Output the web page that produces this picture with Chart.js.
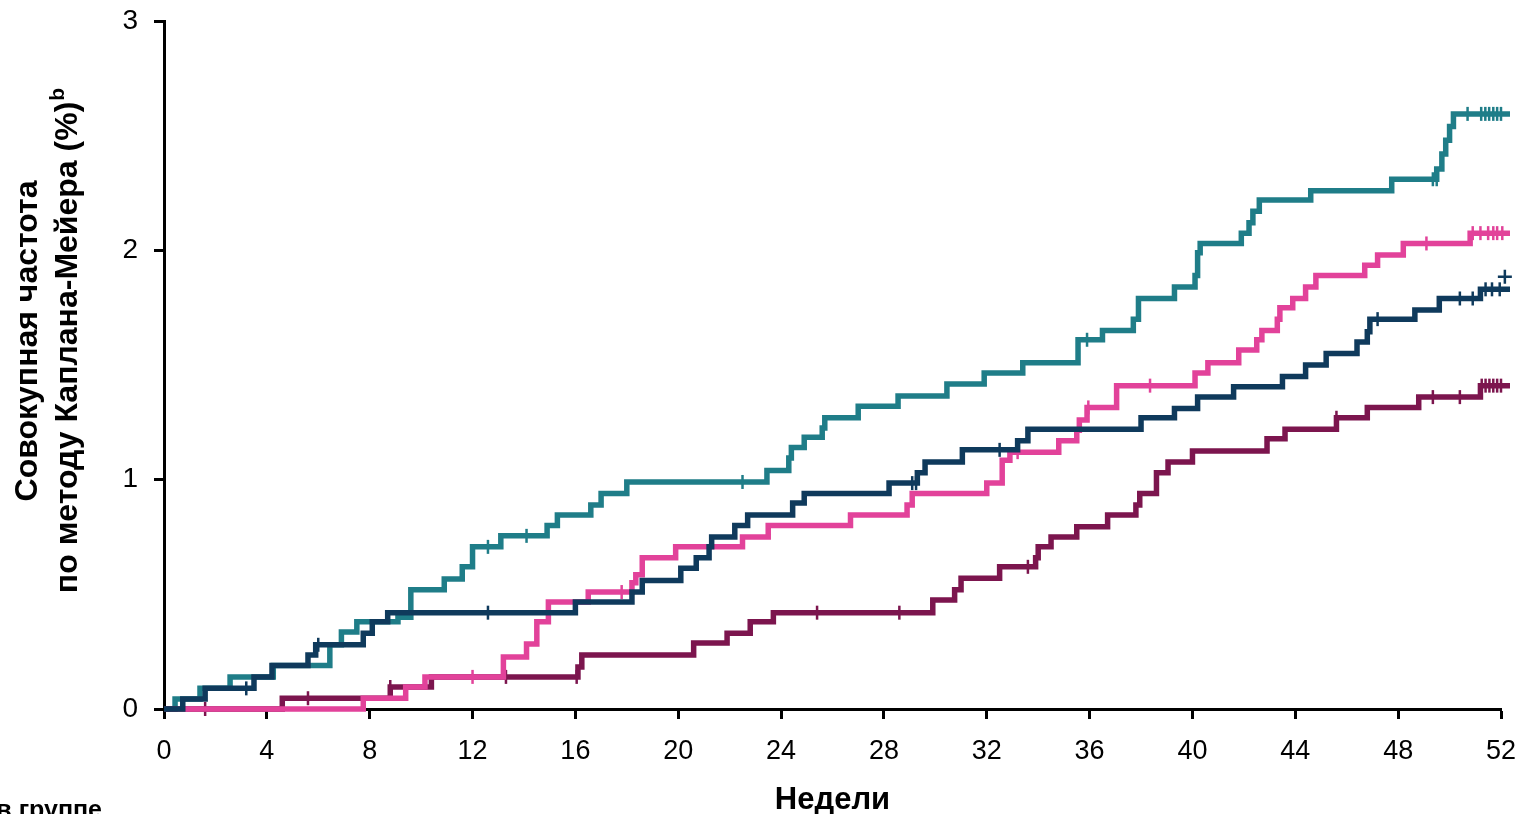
<!DOCTYPE html>
<html><head><meta charset="utf-8">
<script src="https://cdn.jsdelivr.net/npm/chart.js@4.4.1/dist/chart.umd.min.js"></script>
<style>html,body{margin:0;padding:0;background:#fff;overflow:hidden}#wrap{position:relative;width:1519px;height:814px}</style>
</head><body><div id="wrap"><canvas id="c"></canvas></div>
<script>
// ---- tick labels / titles ----
const xTickValues = [0,4,8,12,16,20,24,28,32,36,40,44,48,52];
const yTickValues = [0,1,2,3];
const xTitle = 'Недели';
const yTitleLine1 = 'Совокупная частота';
const yTitleLine2 = 'по методу Каплана-Мейера (%)';
const yTitleSup = 'b';
const footText = 'в группе';

// ---- teal series ----
const tealTimes = [0,0.43,1.4,2.57,4.25,6.45,6.9,7.5,9.1,9.6,10.9,11.6,12.0,13.1,14.9,15.3,16.6,17.0,18.0,23.45,24.3,24.4,24.9,25.6,25.7,27.0,28.55,30.45,31.9,33.4,35.55,36.5,37.7,37.9,39.3,40.1,40.2,40.3,41.9,42.2,42.35,42.6,44.6,47.75,49.5,49.7,49.85,50.0,50.15,52.35];
const tealValues = [0,0.044,0.09,0.14,0.19,0.28,0.336,0.38,0.40,0.52,0.567,0.62,0.707,0.755,0.80,0.846,0.89,0.94,0.99,1.04,1.095,1.14,1.185,1.225,1.27,1.32,1.365,1.417,1.465,1.51,1.61,1.65,1.70,1.79,1.84,1.89,1.99,2.03,2.075,2.12,2.17,2.22,2.26,2.31,2.355,2.42,2.48,2.54,2.595,2.595];
const tealCensorTimes = [12.6,14.1,22.5,35.9,49.35,49.5,50.7,51.23,51.39,51.54,51.7,51.85,52.0];
const tealCensorValues = [0.707,0.755,0.99,1.61,2.31,2.31,2.595,2.595,2.595,2.595,2.595,2.595,2.595];

// ---- navy series ----
const navyTimes = [0,0.73,1.6,3.5,4.2,5.6,5.9,7.75,8.1,8.7,16.0,18.2,18.6,20.1,20.7,21.2,21.3,22.2,22.7,24.45,24.9,28.2,29.3,29.6,31.05,33.2,33.6,38.0,39.3,40.2,41.6,43.5,44.4,45.2,46.4,46.8,46.9,48.65,49.6,51.2,52.35];
const navyValues = [0,0.044,0.09,0.14,0.19,0.235,0.28,0.33,0.38,0.42,0.467,0.51,0.56,0.614,0.66,0.707,0.75,0.80,0.846,0.898,0.94,0.985,1.03,1.077,1.13,1.17,1.22,1.27,1.31,1.36,1.405,1.45,1.50,1.55,1.60,1.645,1.70,1.74,1.79,1.83,1.83];
const navyCensorTimes = [3.2,6.0,12.6,29.1,29.25,32.5,47.2,50.4,50.9,51.4,51.65,51.95,52.15];
const navyCensorValues = [0.09,0.28,0.42,0.985,0.985,1.13,1.70,1.79,1.79,1.83,1.83,1.83,1.885];

// ---- pink series ----
const pinkTimes = [0.8,7.75,9.4,10.15,13.2,14.1,14.5,14.95,16.5,18.2,18.35,18.6,19.9,22.5,23.5,26.7,28.9,29.1,32.0,32.6,32.9,34.8,35.5,35.6,35.9,37.05,40.1,40.6,41.8,42.5,42.7,43.3,43.4,43.9,44.4,44.8,46.7,47.2,48.2,50.8,52.35];
const pinkValues = [0,0.047,0.096,0.14,0.227,0.283,0.38,0.467,0.51,0.55,0.585,0.66,0.707,0.75,0.80,0.846,0.89,0.94,0.985,1.085,1.12,1.17,1.215,1.26,1.315,1.41,1.465,1.51,1.565,1.61,1.65,1.70,1.75,1.79,1.84,1.89,1.935,1.98,2.03,2.075,2.075];
const pinkCensorTimes = [12.0,17.8,33.2,35.95,38.35,49.1,50.9,51.2,51.5,51.7,51.85,52.05];
const pinkCensorValues = [0.14,0.51,1.12,1.315,1.41,2.03,2.075,2.075,2.075,2.075,2.075,2.075];

// ---- maroon series ----
const maroonTimes = [0,4.6,8.8,10.4,16.1,16.25,20.6,21.9,22.8,23.7,29.9,30.75,31.0,32.5,33.9,34.0,34.5,35.5,36.7,37.8,37.95,38.6,39.05,40.0,42.9,43.6,45.6,46.8,48.8,51.2,52.35];
const maroonValues = [0,0.047,0.096,0.14,0.183,0.235,0.288,0.33,0.38,0.42,0.475,0.52,0.57,0.62,0.66,0.707,0.75,0.795,0.846,0.89,0.94,1.03,1.077,1.125,1.178,1.22,1.27,1.315,1.36,1.41,1.41];
const maroonCensorTimes = [1.6,5.6,8.8,13.3,16.05,25.4,28.6,33.6,45.6,49.35,50.4,51.25,51.4,51.55,51.7,51.85,52.0];
const maroonCensorValues = [0,0.047,0.096,0.14,0.14,0.42,0.42,0.62,1.27,1.36,1.36,1.41,1.41,1.41,1.41,1.41,1.41];

const seriesNames = ['Группа 1','Группа 2','Группа 3','Группа 4'];
const colors = {teal:'#1f7d88', navy:'#0f3a5c', pink:'#e2429a', maroon:'#7c154e'};

function pts(t, v){ return t.map((x,i)=>({x:x, y:v[i]})); }
function stepDs(label, t, v, color, order){
  return {label, data: pts(t,v), borderColor: color, backgroundColor: color, borderWidth: 5.5,
    stepped: true, pointRadius: 0, fill: false, order, clip: false, borderJoinStyle: 'miter', borderCapStyle: 'butt'};
}
function censorDs(label, t, v, color, order){
  return {label: label + ' (цензурирование)', data: pts(t,v), borderColor: color, backgroundColor: color,
    showLine: false,
    pointStyle: c => (c.raw && c.raw.x > 52.1) ? 'cross' : 'line',
    rotation: 90, pointRadius: 7, pointBorderWidth: 2.5,
    pointHoverRadius: 7, order, clip: false};
}

const FONT = "'Liberation Sans', Arial, sans-serif";

const extraText = {
  id: 'extraText',
  afterDraw(chart){
    const ctx = chart.ctx;
    ctx.save();
    ctx.fillStyle = '#000';
    ctx.textBaseline = 'middle';
    const cy = 341;
    const big = 'bold 32px ' + FONT, small = 'bold 21px ' + FONT;
    ctx.font = big;
    ctx.save(); ctx.translate(28, cy); ctx.rotate(-Math.PI/2);
    ctx.textAlign = 'center'; ctx.fillText(yTitleLine1, 0, 0); ctx.restore();
    ctx.save(); ctx.translate(68, cy); ctx.rotate(-Math.PI/2);
    ctx.font = big;
    const w1 = ctx.measureText(yTitleLine2).width;
    ctx.font = small;
    const w2 = ctx.measureText(yTitleSup).width;
    const start = -(w1 + w2)/2;
    ctx.textAlign = 'left';
    ctx.font = big;
    ctx.fillText(yTitleLine2, start, 0);
    ctx.font = small;
    ctx.fillText(yTitleSup, start + w1 + 1, -10);
    ctx.restore();
    ctx.font = 'bold 25px ' + FONT;
    ctx.textAlign = 'right'; ctx.textBaseline = 'alphabetic';
    ctx.fillText(footText, 102, 818);
    ctx.restore();
  }
};

new Chart(document.getElementById('c'), {
  type: 'line',
  data: { datasets: [
    stepDs(seriesNames[0], tealTimes, tealValues, colors.teal, 4),
    stepDs(seriesNames[1], navyTimes, navyValues, colors.navy, 1),
    stepDs(seriesNames[2], pinkTimes, pinkValues, colors.pink, 2),
    stepDs(seriesNames[3], maroonTimes, maroonValues, colors.maroon, 3),
    censorDs(seriesNames[0], tealCensorTimes, tealCensorValues, colors.teal, 4),
    censorDs(seriesNames[1], navyCensorTimes, navyCensorValues, colors.navy, 1),
    censorDs(seriesNames[2], pinkCensorTimes, pinkCensorValues, colors.pink, 2),
    censorDs(seriesNames[3], maroonCensorTimes, maroonCensorValues, colors.maroon, 3)
  ]},
  options: {
    responsive: true, maintainAspectRatio: false, animation: false,
    layout: { padding: { top: 21, right: 18, left: 0, bottom: 0 } },
    plugins: { legend: { display: false }, tooltip: { enabled: false } },
    scales: {
      x: {
        type: 'linear', min: 0, max: 52,
        afterBuildTicks: s => { s.ticks = xTickValues.map(v => ({value: v})); },
        afterFit: s => { s.height = 105; s.paddingLeft = 0; s.paddingRight = 0; },
        border: { display: true, color: '#000', width: 3 },
        grid: { display: true, drawOnChartArea: false, drawTicks: true, tickLength: 10, tickWidth: 3, tickColor: '#000', color: '#000' },
        ticks: { color: '#000', font: { family: FONT, size: 27 }, padding: 16, maxRotation: 0, autoSkip: false },
        title: { display: true, text: xTitle, color: '#000', font: { family: FONT, size: 31, weight: 'bold', lineHeight: 0.85 }, padding: { top: 0, bottom: 0 } }
      },
      y: {
        type: 'linear', min: 0, max: 3,
        afterBuildTicks: s => { s.ticks = yTickValues.map(v => ({value: v})); },
        afterFit: s => { s.width = 164; s.paddingTop = 0; s.paddingBottom = 0; },
        border: { display: true, color: '#000', width: 3 },
        grid: { display: true, drawOnChartArea: false, drawTicks: true, tickLength: 10, tickWidth: 3, tickColor: '#000', color: '#000' },
        ticks: { color: '#000', font: { family: FONT, size: 28 }, padding: 16 }
      }
    }
  },
  plugins: [extraText]
});
</script></body></html>
